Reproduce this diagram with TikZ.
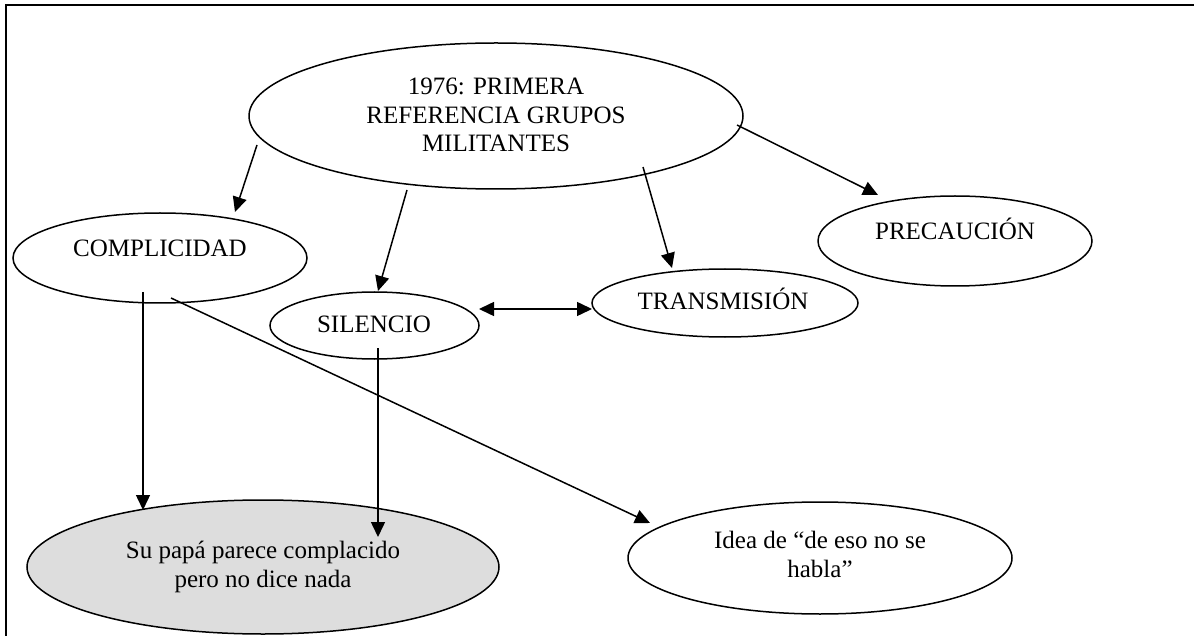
\documentclass[tikz,border=0pt]{standalone}
\usepackage{fontspec}
\setmainfont{Liberation Serif}
\usetikzlibrary{arrows.meta,shapes.geometric}
\definecolor{fillgray}{RGB}{221,221,221}
\tikzset{
  oval/.style={draw=black, line width=1.5pt, ellipse, inner sep=0pt},
  lbl/.style={font=\fontsize{25}{28.8}\selectfont, inner sep=0pt, align=center, anchor=base},
  conn/.style={line width=1.5pt, -{Triangle[length=15pt,width=14pt]}},
  bconn/.style={line width=1.5pt, {Triangle[length=15pt,width=14pt]}-{Triangle[length=15pt,width=14pt]}},
  frame/.style={line width=2pt, draw=black}
}
\begin{document}
\begin{tikzpicture}[x=1pt,y=-1pt]
\useasboundingbox (0,0) rectangle (1194,636);
\draw[frame] (5.5,645) -- (5.5,5.5) -- (1200,5.5);

% ellipses
\node[oval, minimum width=494pt, minimum height=146pt] (top) at (496,116) {};
\node[oval, minimum width=294pt, minimum height=90pt] (comp) at (160,258) {};
\node[oval, minimum width=209pt, minimum height=67pt] (sil) at (374.5,325.5) {};
\node[oval, minimum width=266pt, minimum height=68pt] (trans) at (725,303) {};
\node[oval, minimum width=274pt, minimum height=90pt] (prec) at (955,241) {};
\node[oval, fill=fillgray, minimum width=472pt, minimum height=134pt] (papa) at (263,567) {};
\node[oval, minimum width=384pt, minimum height=112pt] (idea) at (820,558) {};

% texts (base anchor = baseline of the last line)
\node[lbl] (topT) at (496,152) {1976: PRIMERA\\REFERENCIA GRUPOS\\MILITANTES};
\node[lbl] (compT) at (160,257) {COMPLICIDAD};
\node[lbl] (silT) at (374,333) {SILENCIO};
\node[lbl] (transT) at (723,310) {TRANSMISIÓN};
\node[lbl] (precT) at (955,240) {PRECAUCIÓN};
\node[lbl] (papaT) at (263,587) {Su papá parece complacido\\pero no dice nada};
\node[lbl] (ideaT) at (820,577) {Idea de “de eso no se\\habla”};

% connector ends
\coordinate (a1s) at (257,145); \coordinate (a1e) at (235,212);
\coordinate (a2s) at (407,190); \coordinate (a2e) at (378,291);
\coordinate (a3s) at (643,167); \coordinate (a3e) at (672,268);
\coordinate (a4s) at (737,125); \coordinate (a4e) at (878,195);
\coordinate (a5s) at (143,292); \coordinate (a5e) at (143,510);
\coordinate (a6s) at (378,348); \coordinate (a6e) at (378,537);
\coordinate (a7s) at (171,298); \coordinate (a7e) at (650,523);
\coordinate (a8s) at (479,309); \coordinate (a8e) at (592,309);

\draw[conn] (a1s) -- (a1e);
\draw[conn] (a2s) -- (a2e);
\draw[conn] (a3s) -- (a3e);
\draw[conn] (a4s) -- (a4e);
\draw[conn] (a5s) -- (a5e);
\draw[conn] (a6s) -- (a6e);
\draw[conn] (a7s) -- (a7e);
\draw[bconn] (a8s) -- (a8e);
\end{tikzpicture}
\end{document}
